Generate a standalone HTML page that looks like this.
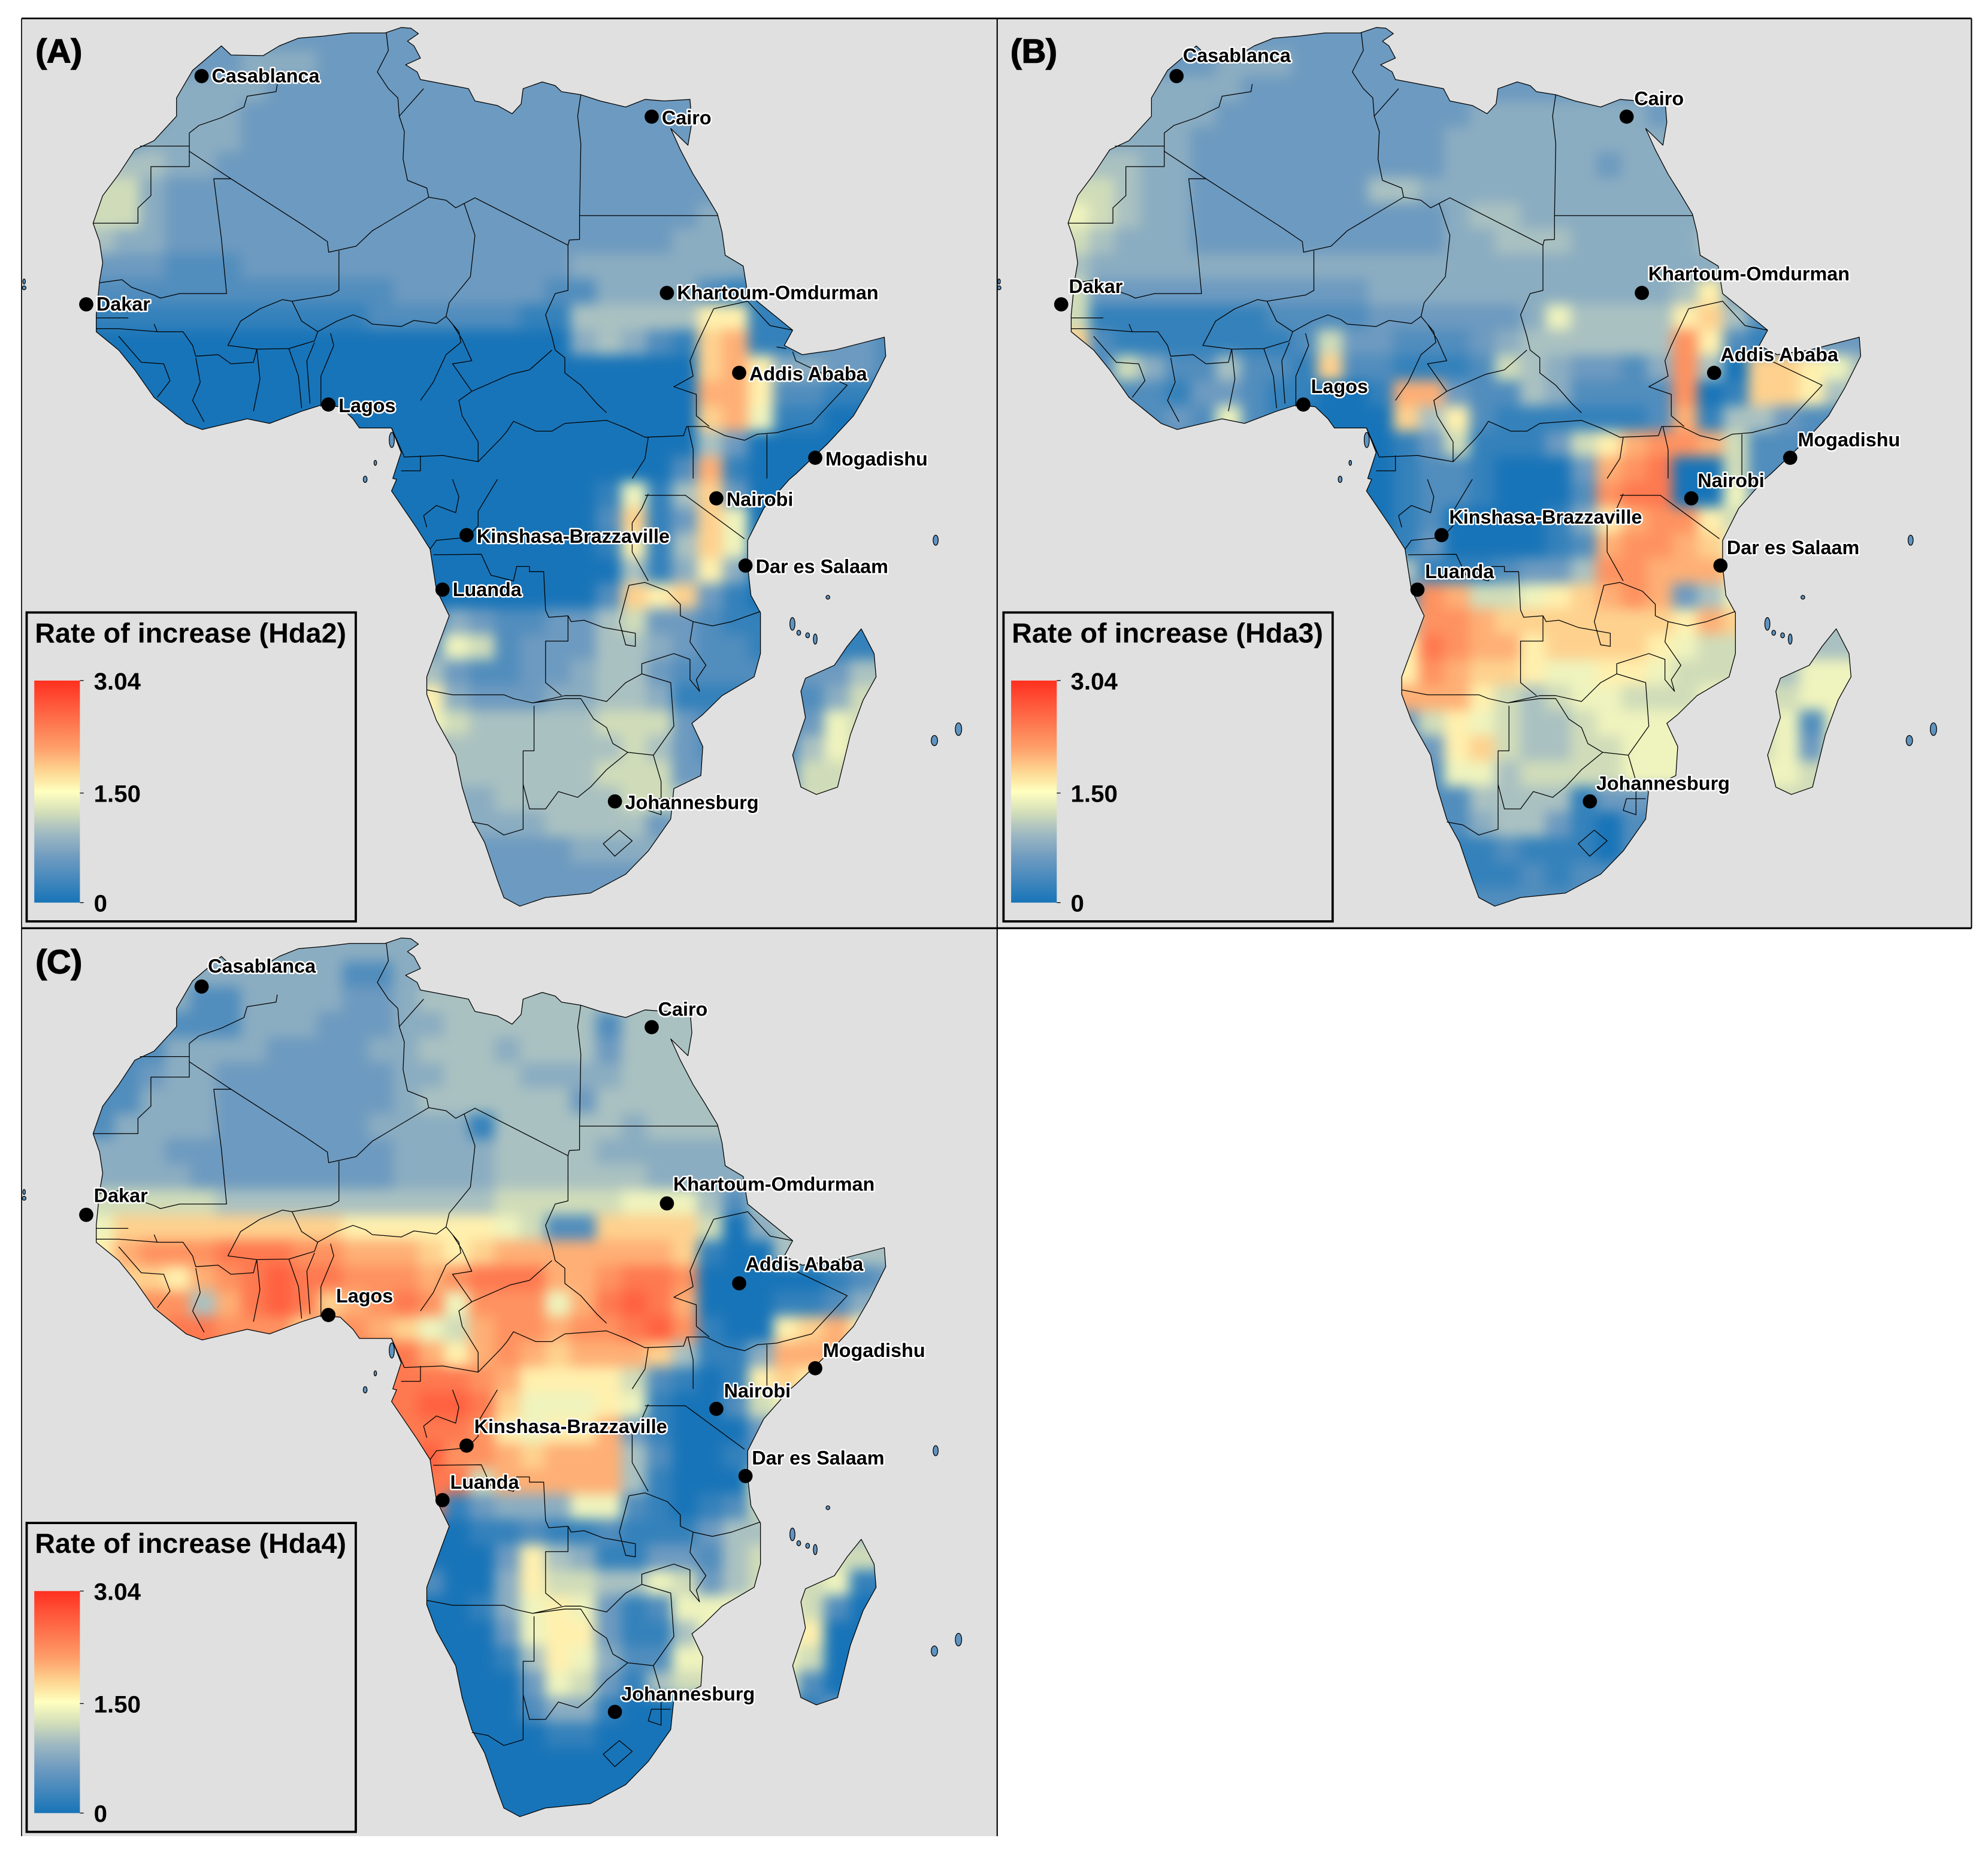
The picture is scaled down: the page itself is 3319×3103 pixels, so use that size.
<!DOCTYPE html>
<html lang="en">
<head>
<meta charset="utf-8">
<title>Rate of increase maps of Africa</title>
<style>
html,body{margin:0;padding:0;background:#fff;}
svg{display:block;width:3319px;height:3103px;font-family:"Liberation Sans",Arial,sans-serif;}
.city{font-weight:bold;font-size:15.3px;fill:#000;stroke:#fff;stroke-width:2.4px;paint-order:stroke;stroke-linejoin:round;}
.letter{font-weight:bold;font-size:26.5px;fill:#000;stroke:#000;stroke-width:.7px;}
.ltitle{font-weight:bold;font-size:22.1px;fill:#000;}
.ltick{font-weight:bold;font-size:19px;fill:#000;}
.line{fill:none;stroke:#000;stroke-width:.6px;stroke-linejoin:round;}
</style>
</head>
<body>
<svg id="chart" xmlns="http://www.w3.org/2000/svg" viewBox="0 0 1568 1466">
<defs>
<filter id="soft" filterUnits="userSpaceOnUse" x="0" y="-20" width="780" height="780" color-interpolation-filters="sRGB"><feGaussianBlur stdDeviation="5"/></filter>
<clipPath id="landClip"><path id="landClipPath" d=""/></clipPath>
<linearGradient id="legendRamp" x1="0" y1="1" x2="0" y2="0"></linearGradient>
</defs>
<rect x="0" y="0" width="1568" height="1466" fill="#fff"/>
<g id="panels"></g>
</svg>
<script>
/* Grid values: each hex digit is a rate of increase, digit/15 * 3.04 */
const hda2Rows = [
"3333333333 3333333333 3333333333 33",
"3333334443 3333333333 3333333333 33",
"3344444333 3333333333 3333333333 33",
"3334443333 3333333333 3333333333 33",
"3344443333 3333333333 3333333333 33",
"5554433333 3333333333 3333333333 33",
"6643333333 3333333333 3333333333 33",
"6643333333 3333333333 3333444333 33",
"5443333333 3333333333 3334444333 33",
"3332223333 3333333334 4444443111 11",
"2222222222 2233333322 4444211111 11",
"1111111111 1222222115 5555881111 11",
"0000000000 0000000004 54219a1123 32",
"0000000000 0000000000 00009a8443 32",
"0000000000 0000000000 0000aa8221 11",
"0000000000 0000000000 00009a7110 00",
"0000000000 0000000000 0000530000 00",
"0000000000 0000000000 0002a10000 00",
"0000000000 0000000000 1715930000 00",
"0000000000 0000000000 2913970000 00",
"0000000000 0000000000 1815970000 00",
"0000000000 0000000000 0514840000 00",
"0000000000 0000000000 2989310000 00",
"0000000000 0001432233 5633211111 11",
"3333333333 0003762333 5543221111 11",
"2222222222 2225322334 5532222333 55",
"5555555555 5558433344 5541112224 66",
"7777777777 7777655555 6663222237 66",
"4444444444 4444555555 5653222257 66",
"5555555555 5555555555 6663333366 66",
"4444444444 4444445555 5665444466 66",
"3333333333 3333444455 5534444444 44",
"3333333333 3333333334 4443333333 33",
"3333333333 3333333333 3333333333 33",
"3333333333 3333333333 3333333333 33"
];
const hda3Rows = [
"3333333333 3333333333 3333333333 33",
"3333334443 3333333333 3333333333 33",
"3444444333 3333333333 3333333333 33",
"3444443333 3333334444 4443433333 33",
"3444433333 3333344444 4444444433 33",
"5554433333 3333344444 4344444333 33",
"6654433333 3355444444 4444444333 33",
"7654433333 3333345544 4444444333 33",
"6544433333 3333344555 4444454444 33",
"5444444444 4444444444 4444445444 33",
"6333333333 3344444444 4444583333 33",
"6111111122 2233333347 5555895222 22",
"9211111112 6332223455 5555b82133 33",
"2264225221 9221112654 3324b50998 75",
"2222133211 001aa32254 2222b01998 55",
"2222327210 0009582111 1112a15532 22",
"2222222222 0001361113 68abba6222 22",
"0000000000 0001221000 3abc006222 22",
"0000000000 0001221000 2bcc007322 22",
"0000000000 0001200001 48abb86333 33",
"1111111111 1111300001 2abba97444 44",
"2222222222 2225111233 5bbaaa9444 44",
"3333333333 2222ba6678 9aba357555 55",
"5555555555 5555bba999 99998a9555 55",
"8888888888 8888cbaa89 9998766555 55",
"8888888888 8888ba9987 7887666557 77",
"aaaaaaaaaa aaaaaa8656 7766677667 77",
"3333333333 3333687655 6777777672 77",
"2222222222 2222389655 6677777673 77",
"2222222222 2222277566 6677776776 66",
"2222222222 2222225555 1333335666 66",
"2222222222 2222224553 1022222666 66",
"1111111111 1111111211 1022222222 22",
"1111111111 1111111121 2222222222 22",
"2222222222 2222222222 2222222222 22"
];
const hda4Rows = [
"4444444444 4444444444 4444444444 44",
"4444444444 2244444444 4444444444 44",
"3334224444 3345555555 5555555555 55",
"3332224443 3344555555 2555554555 55",
"3224444333 3445554555 3555555555 55",
"2234433333 3344555444 4555555555 55",
"2244433333 3345555553 5555555555 55",
"2444433333 3444415555 5455555555 55",
"4443333333 3344445555 4444445555 55",
"4444333333 3344445555 5544444444 44",
"6666655555 5555556666 6777525555 55",
"7999999999 8888887622 9999604555 55",
"8abbbcccbb aaa989aaaa aaa9100555 55",
"8998abcdcc bbbabccca a bccb000001 23",
"9abb5acdc9 abcb7bbb7a cdca000112 45",
"99accbbb9b ba976abbab bcdb100 89a 86",
"cccccccccc ccca8aba9a aa95114aaa 88",
"cccccccccc cccccba888 8621018988 88",
"cccccccccc cccddc9777 8710026777 77",
"cccccccccc cccccb8788 a310003333 33",
"cccccccccc cccdbba9aa a520012222 22",
"cccccccccc ccccc6aaaa a510007777 77",
"cccccccccc cccc134447 7210126666 66",
"0000000000 0000011211 2111355555 55",
"0000000000 0000003854 1133256666 66",
"2222222222 2222004866 5576356667 11",
"0000000000 0000014787 3127777762 00",
"0000000000 0000003788 3115777780 00",
"0000000000 0000001587 4227777760 00",
"0000000000 0000000376 3156666620 00",
"0000000000 0000000244 1000000013 33",
"0000000000 0000000011 0000000000 00",
"0000000000 0000000000 0000000000 00",
"0000000000 0000000000 0000000000 00",
"0000000000 0000000000 0000000000 00"
];
const seriesRows = [hda2Rows, hda3Rows, hda4Rows];
const panelLetters = ["(A)", "(B)", "(C)"];
const seriesTitles = ["Rate of increase (Hda2)", "Rate of increase (Hda3)", "Rate of increase (Hda4)"];
const legendTickValues = [0, 1.5, 3.04];
const legendTickLabels = ["0", "1.50", "3.04"];
const cityNames = ["Casablanca","Cairo","Khartoum-Omdurman","Dakar","Addis Ababa","Lagos","Mogadishu","Nairobi","Kinshasa-Brazzaville","Dar es Salaam","Luanda","Johannesburg"];

const MAX_RATE = 3.04;
const SVGNS = "http://www.w3.org/2000/svg";
const COL0 = 70, ROW0 = 20, CELL = 20;
function xCell(c){ return COL0 + c * CELL; }
function yCell(r){ return ROW0 + r * CELL; }
function yLegend(v){ return 711.8 - v / MAX_RATE * 175.1; }

const rampStops = [[0,[24,116,184]],[.2,[109,154,192]],[.32,[163,188,194]],[.4,[208,220,185]],[.5,[255,255,191]],[.58,[254,219,149]],[.7,[254,158,104]],[1,[255,48,32]]];
function rampColor(t){
  for(let i=1;i<rampStops.length;i++){
    if(t<=rampStops[i][0]){
      const a=rampStops[i-1],b=rampStops[i],f=(t-a[0])/(b[0]-a[0]);
      return "rgb("+a[1].map((v,k)=>Math.round(v+(b[1][k]-v)*f)).join(",")+")";
    }
  }
  return "rgb(255,48,32)";
}
function make(tag, attrs, parent){
  const el=document.createElementNS(SVGNS,tag);
  for(const k in attrs) el.setAttribute(k,attrs[k]);
  parent.appendChild(el);
  return el;
}

/* Map geometry, in two traced sheets */
function sheetA(a){ const o=[]; for(let i=0;i<a.length;i+=2) o.push([a[i]*.5062,a[i+1]*.2411]); return o; }
function sheetB(a){ const o=[]; for(let i=0;i<a.length;i+=2) o.push([a[i]*.5062,378+a[i+1]*.229]); return o; }
const coastNorth = sheetA([345,150,360,180,410,182,435,150,465,125,505,118,545,108,600,108,625,90,640,92,652,110,635,135,645,150,655,190,632,212,650,235,655,260,700,278,730,290,740,330,775,345,798,372,812,340,815,290,845,268,865,280,875,300,905,310,935,330,975,350,1005,325,1035,330,1075,325,1078,400,1072,475,1045,420,1060,490,1080,570,1098,630,1118,700,1125,760,1130,835,1158,870,1165,960,1200,1020,1235,1080,1222,1130,1250,1160,1300,1145,1378,1103,1380,1165,1355,1270,1330,1360,1290,1450,1240,1550]);
const coastSouth = sheetB([1230,0,1190,100,1165,210,1165,300,1170,400,1185,460,1185,600,1175,680,1125,745,1095,810,1078,840,1095,920,1092,1020,1050,1065,1045,1170,1010,1280,975,1360,920,1425,850,1440,810,1470,785,1440,775,1380,755,1250,735,1170,720,1060,710,950,680,830,665,740,665,680,685,560,700,470,680,380,670,240,650,170,610,40,618,0]);
const coastWest = sheetA([612,1565,625,1480,610,1400,560,1400,550,1370,530,1330,500,1325,470,1345,420,1385,385,1370,315,1405,290,1385,240,1300,210,1210,185,1145,150,1085,150,1030,155,920,160,860,155,790,145,730,160,640,185,570,210,490,240,460,275,380,275,320,300,230]);
const madagascar = sheetB([1342,515,1362,600,1365,680,1345,760,1325,880,1305,1060,1272,1085,1248,1060,1235,950,1255,820,1248,730,1255,685,1300,640,1320,575]);
const bordersA = [
[432,275,430,300,385,315,380,350,345,385,310,410,295,435,295,478],
[218,478,295,478,295,545,235,545,235,640,215,680,215,730,145,730],
[295,495,360,585,475,740,510,790,512,825,555,805,580,755,668,645],
[360,585,333,585,345,780,353,960,280,960,250,975,240,965,205,940,190,915,155,925],
[602,108,605,165,588,235,605,290,620,320,622,380,630,430,628,520,635,590,665,615,668,645,695,655,710,680,740,647,885,802],
[622,380,660,290],
[905,310,900,380,905,470,903,705,903,783,887,785,885,802,885,950,865,960,850,1030,860,1100,865,1145,880,1170,880,1220,905,1260,930,1320,945,1350],
[903,705,1118,705],
[723,665,740,770,733,905,700,990,695,1035,715,1085,718,1120,695,1160,675,1250,655,1310],
[528,820,528,950,515,965,455,985,440,980,405,1010,375,1050,355,1130,400,1142,450,1140,490,1115,495,1085,470,1050,455,985],
[495,1085,525,1050,550,1030,570,1045,580,1060,625,1068,645,1048,680,1058,695,1035],
[500,1330,500,1230,520,1130,515,1090],
[705,1060,720,1110,735,1180,705,1190,735,1280,795,1225,825,1210,860,1145],
[735,1280,715,1310,720,1360,745,1445,745,1510,690,1490,630,1495,610,1400],
[655,1490,655,1540,625,1540],
[745,1510,780,1435,790,1410,800,1378,835,1410,860,1410,880,1385,945,1375,975,1400,1005,1430,1065,1425,1070,1395,1100,1395,1130,1425,1160,1440,1180,1420,1210,1415,1265,1385,1320,1260,1240,1180,1235,1150],
[1112,1010,1085,1130,1075,1180,1080,1230,1050,1265,1085,1290,1085,1360,1105,1395],
[1112,1010,1165,985,1200,1065,1235,1080],
[1210,1135,1225,1140],
[1195,1420,1195,1565],
[1010,1430,1005,1500,985,1565],
[1072,1395,1080,1470,1080,1565],
[240,1060,245,1085,285,1085,300,1130,305,1165,340,1160,360,1190,395,1185,400,1142],
[150,1075,185,1075,245,1085],
[150,1040,200,1040],
[185,1100,220,1185,255,1190,265,1245,245,1300],
[305,1170,312,1250,300,1310,318,1380],
[400,1142,405,1240,395,1345],
[450,1140,465,1230,470,1335],
[490,1120,478,1180,483,1320]
];
const bordersB = [
[705,0,715,60,710,115,680,90,660,125,665,165],
[775,0,745,110,745,160,728,200,680,210,670,240],
[675,260,750,258,765,330,800,350,805,300,825,300,825,318,847,318,850,450,855,475,885,470,890,490,910,485,940,510,965,520,990,530,990,575,975,570,965,490,980,365,1005,355,1040,385,1060,430,1060,470],
[885,470,885,557,850,557,850,700,875,745],
[665,725,705,742,785,742,800,755,830,770,880,745,905,745,945,765,975,700,1000,670,1045,700,1050,850,1018,950],
[1010,50,1000,100,985,150,985,250,1010,350],
[1005,55,1068,55,1160,205],
[1060,470,1080,490,1110,505,1140,490,1185,455],
[1080,490,1075,560,1100,640,1085,690,1090,730,1075,690,1075,620,1050,600,1000,635,1000,670],
[832,780,832,935,815,935,815,1205,785,1225,760,1190,735,1180],
[830,770,880,755,905,755,925,825,945,855,955,910,978,940,1018,950,1030,1040,1030,1155,1010,1140,1015,1100,1045,1100],
[978,940,945,1000,920,1060,900,1095,870,1075,850,1135,825,1135,815,1050],
[965,1208,985,1245,958,1298,940,1255,965,1208]
];
const islandShapes = [[625,492,2,5],[630,499,1.5,2],[637,501,1.5,2],[643,504,1.5,4],[737,584,2.5,4],[756,575,2.5,5],[738,426,2,4],[653,471,1.5,1.5],[175.6,534,1,1],[19,222,1,2],[19,227,1.5,1.5],[309,347,2,6],[296,365,1,2],[288,378,1.5,2.5]];

function toPath(pts, close){
  return "M"+pts.map(p=>p[0].toFixed(1)+" "+p[1].toFixed(1)).join("L")+(close?"Z":"");
}
const mainland = coastNorth.concat(coastSouth, coastWest);
const landD = toPath(mainland,true)+toPath(madagascar,true);
document.getElementById("landClipPath").setAttribute("d",landD);

let bordersD = "";
bordersA.forEach(b=>{ bordersD += toPath(sheetA(b)); });
bordersB.forEach(b=>{ bordersD += toPath(sheetB(b)); });

/* Legend gradient */
const grad = document.getElementById("legendRamp");
for(let i=0;i<=20;i++){
  make("stop",{offset:(i/20),"stop-color":rampColor(i/20)},grad);
}

/* Per-panel city positions in figure pixels, and label anchors */
const cityDots = [[159,60],[514,92],[526,231],[68,240],[583,294],[259,319],[643,361],[565,393],[368,422],[588,446],[349,465],[485,632]];
const labelSpotsA = [[167,65],[522,98],[534,236],[76,245],[591,300],[267,325],[651,367],[573,399],[376,428],[596,452],[357,470],[493,638]];
const labelSpotsB = [[164,49],[520,83],[531,221],[74,231],[588,285],[265,310],[649,352],[570,384],[374,413],[593,437],[355,456],[490,623]];
const labelSpotsC = [[164,49],[519,83],[531,221],[74,230],[588,284],[265,309],[649,352],[571,384],[374,412],[593,437],[355,456],[490,623]];
const labelSpots = [labelSpotsA,labelSpotsB,labelSpotsC];
const panelBoxes = [[17.5,14.5,768.5,717.5],[787,14.5,768,717.5],[17.5,732,768.5,716]];
const panelShift = [[0,0],[769,0],[0,718]];

const root = document.getElementById("panels");
seriesRows.forEach((rows,p)=>{
  const box = panelBoxes[p], shift = panelShift[p];
  const bg = make("rect",{x:box[0],y:box[1],width:box[2],height:box[3],fill:"#e0e0e0"},root);
  
  

  const g = make("g",{transform:"translate("+shift[0]+","+shift[1]+")"},root);
  
  

  const clip = make("g",{"clip-path":"url(#landClip)"},g);
  const heat = make("g",{filter:"url(#soft)"},clip);
  
  

  const grid = rows.map(s=>s.replace(/\s/g,""));
  for(let r=-1;r<=grid.length;r++){
    const row = grid[Math.max(0,Math.min(grid.length-1,r))];
    for(let c=-2;c<=33;c++){
      const ch = row[Math.max(0,Math.min(row.length-1,c))];
      const value = parseInt(ch,16)/15*MAX_RATE;
      const cell = make("rect",{x:xCell(c),y:yCell(r),width:CELL+.5,height:CELL+.5,fill:rampColor(value/MAX_RATE)},heat);
      
      
    }
  }

  const coast = make("path",{d:landD,class:"line"},g);
  
  

  const borders = make("path",{d:bordersD,class:"line"},g);
  
  

  islandShapes.forEach(s=>{
    const isle = make("ellipse",{cx:s[0],cy:s[1],rx:s[2],ry:s[3],fill:"#5f94c0",stroke:"#000","stroke-width":.6},g);
    
    
  });

  cityNames.forEach((name,i)=>{
    const dot = make("circle",{cx:cityDots[i][0],cy:cityDots[i][1],r:5.6,fill:"#000"},g);
    
    
    const label = make("text",{x:labelSpots[p][i][0],y:labelSpots[p][i][1],class:"city"},g);
    
    
    label.textContent = name;
  });

  const letter = make("text",{x:28,y:49.4,class:"letter"},g);
  
  
  letter.textContent = panelLetters[p];

  const legend = make("g",{transform:"translate("+(p===1?1.5:0)+",0)"},g);
  
  

  const frame = make("rect",{x:21,y:483,width:259.6,height:243.6,fill:"#e0e0e0",stroke:"#000","stroke-width":1.8},legend);
  
  

  const title = make("text",{x:27.5,y:506.6,class:"ltitle"},legend);
  
  
  title.textContent = seriesTitles[p];

  const bar = make("rect",{x:27,y:yLegend(MAX_RATE),width:36,height:yLegend(0)-yLegend(MAX_RATE),fill:"url(#legendRamp)"},legend);
  
  

  legendTickValues.forEach((v,i)=>{
    const tick = make("line",{x1:63,x2:66,y1:yLegend(v),y2:yLegend(v),stroke:"#000","stroke-width":.6},legend);
    
    
    const tickText = make("text",{x:74,y:yLegend(v)+7,class:"ltick"},legend);
    
    
    tickText.textContent = legendTickLabels[i];
  });
});

/* Frame lines */
const frameLines = [[17,14.5,1555,14.5,1.3],[17,14.5,17,1448,.8],[786.5,14.5,786.5,1448,1],[1555,14.5,1555,732,1],[17,732,1555,732,1.5]];
frameLines.forEach(f=>{
  const l = make("line",{x1:f[0],y1:f[1],x2:f[2],y2:f[3],stroke:"#000","stroke-width":f[4]},root);
  
  
});
</script>
</body>
</html>
